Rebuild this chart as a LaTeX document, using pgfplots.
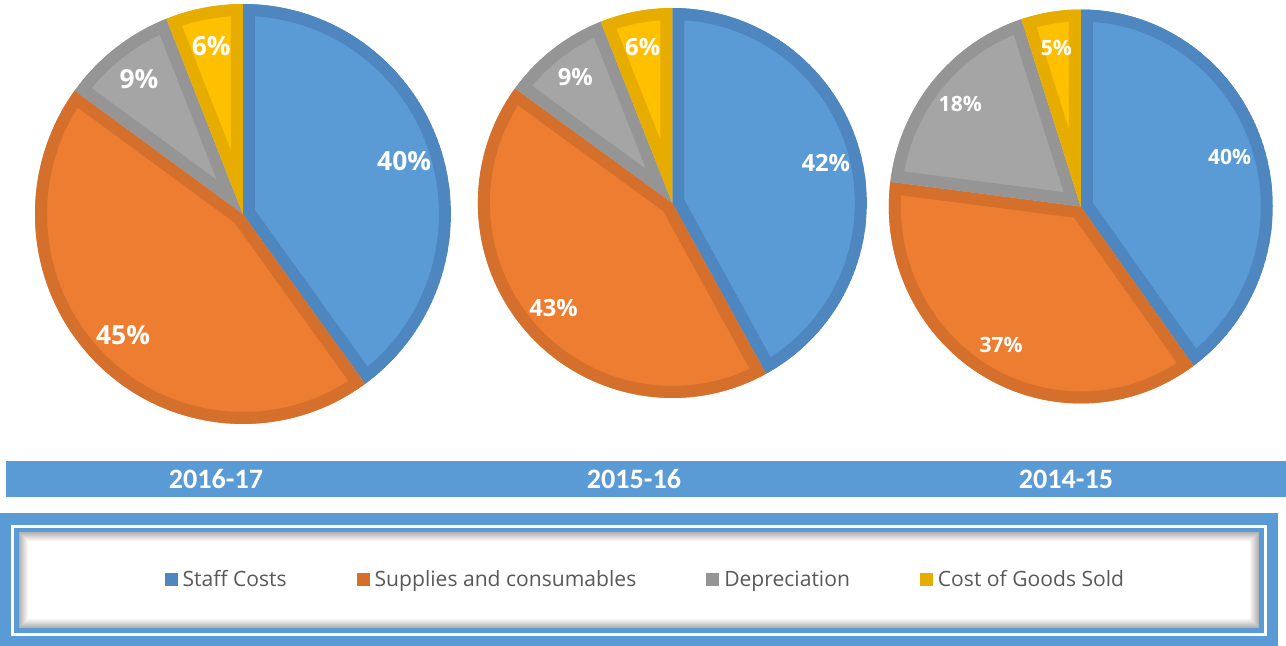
\documentclass[border=0pt]{standalone}
\usepackage{pgfplots}
\pgfplotsset{compat=1.18}
\usepackage{pgfplotstable}
\usepackage{fontspec}
\setmainfont{Open Sans}
\newfontfamily\carlito{Carlito}

\definecolor{cA}{HTML}{5B9BD5}\definecolor{cAd}{HTML}{4E87C0}
\definecolor{cB}{HTML}{ED7D31}\definecolor{cBd}{HTML}{D5702C}
\definecolor{cC}{HTML}{A5A5A5}\definecolor{cCd}{HTML}{959595}
\definecolor{cD}{HTML}{FFC000}\definecolor{cDd}{HTML}{E6AD00}
\definecolor{band}{HTML}{5B9BD5}
\definecolor{legtext}{HTML}{595959}

% percentages: Staff Costs, Supplies and consumables, Depreciation, Cost of Goods Sold
\pgfplotstableread{
cat val
Staff 40
Supplies 45
Depreciation 9
COGS 6
}\tabA
\pgfplotstableread{
cat val
Staff 42
Supplies 43
Depreciation 9
COGS 6
}\tabB
\pgfplotstableread{
cat val
Staff 40
Supplies 37
Depreciation 18
COGS 5
}\tabC

\newcommand\slicepath[2]{(axis cs:0,0) -- ++({#1}:{\RX} and {\RY}) arc[start angle=#1, end angle=#2, x radius=\RX, y radius=\RY] -- cycle}
\newcommand\slice[5]{%
  \begin{scope}
    \clip \slicepath{#1}{#2};
    \fill[#3] \slicepath{#1}{#2};
    \draw[#4, line width=0.48cm, line join=miter] \slicepath{#1}{#2};
  \end{scope}
  \pgfmathsetmacro\midang{(#1+#2)/2}
  \path (axis cs:0,0) ++({\midang}:{0.815*\RX} and {0.815*\RY}) node[text=white, font=\lblfont] {#5\%};
}
\newcommand\drawpie[1]{%
  \pgfplotstablegetelem{0}{val}\of{#1}\let\va\pgfplotsretval
  \pgfplotstablegetelem{1}{val}\of{#1}\let\vb\pgfplotsretval
  \pgfplotstablegetelem{2}{val}\of{#1}\let\vc\pgfplotsretval
  \pgfplotstablegetelem{3}{val}\of{#1}\let\vd\pgfplotsretval
  \pgfmathsetmacro\aA{90-3.6*\va}
  \pgfmathsetmacro\aB{\aA-3.6*\vb}
  \pgfmathsetmacro\aC{\aB-3.6*\vc}
  \pgfmathsetmacro\aD{\aC-3.6*\vd}
  \slice{90}{\aA}{cA}{cAd}{\va}
  \slice{\aA}{\aB}{cB}{cBd}{\vb}
  \slice{\aB}{\aC}{cC}{cCd}{\vc}
  \slice{\aC}{\aD}{cD}{cDd}{\vd}
}
\pgfplotsset{pie/.style={hide axis, scale only axis, xmin=-1, xmax=1, ymin=-1, ymax=1, anchor=center, clip=false}}

\begin{document}
\begin{tikzpicture}[x=0.02cm, y=-0.02cm]
\path[use as bounding box] (0,0) rectangle (1286,646);
% year band
\fill[band] (6,461) rectangle (1286,497);
\node[text=white, font=\carlito\bfseries\fontsize{16}{18}\selectfont] at (216,479) {2016-17};
\node[text=white, font=\carlito\bfseries\fontsize{16}{18}\selectfont] at (634,479) {2015-16};
\node[text=white, font=\carlito\bfseries\fontsize{16}{18}\selectfont] at (1066,479) {2014-15};
% legend frame
\fill[band] (0,513) rectangle (1278,660);
\draw[white, line width=0.07cm] (12.5,526.5) rectangle (1265.5,634.5);
\fill[white] (19,532) rectangle (1259,628);
\foreach \i [evaluate=\i as \g using 30-3.3*\i] in {0,...,8}{
  \draw[black!\g, line width=0.02cm] (19.5+\i,532.5+\i) rectangle (1258.5-\i,627.5-\i);
}
% pies
\def\RX{4.16cm}\def\RY{4.2cm}\def\lblfont{\bfseries\fontsize{15}{18}\selectfont}
\begin{axis}[pie, width=8.32cm, height=8.4cm, at={(4.86cm,-4.28cm)}]
\pgfplotsextra{\drawpie{\tabA}}
\end{axis}
\def\RX{3.89cm}\def\RY{3.9cm}\def\lblfont{\bfseries\fontsize{13.5}{16}\selectfont}
\begin{axis}[pie, width=7.78cm, height=7.8cm, at={(13.45cm,-4.06cm)}]
\pgfplotsextra{\drawpie{\tabB}}
\end{axis}
\def\RX{3.84cm}\def\RY{3.94cm}\def\lblfont{\bfseries\fontsize{12}{14}\selectfont}
\begin{axis}[pie, width=7.68cm, height=7.88cm, at={(21.62cm,-4.13cm)}]
\pgfplotsextra{\drawpie{\tabC}}
\end{axis}
% legend
\begin{axis}[hide axis, scale only axis, width=1cm, height=1cm, xmin=0, xmax=1, ymin=0, ymax=1,
  at={(12.94cm,-11.6cm)}, anchor=center,
  legend columns=4,
  legend image code/.code={\fill[#1] (0cm,-0.13cm) rectangle (0.26cm,0.13cm);},
  legend style={at={(0.5,0.5)}, anchor=center, draw=none, fill=none,
    font=\fontsize{12}{14}\selectfont, text=legtext,
    nodes={inner sep=0.1cm},
    /tikz/every even column/.append style={column sep=1.3cm}}]
\addlegendimage{fill=cAd, draw=none}\addlegendentry{Staff Costs}
\addlegendimage{fill=cBd, draw=none}\addlegendentry{Supplies and consumables}
\addlegendimage{fill=cCd, draw=none}\addlegendentry{Depreciation}
\addlegendimage{fill=cDd, draw=none}\addlegendentry{Cost of Goods Sold}
\end{axis}
\end{tikzpicture}
\end{document}
